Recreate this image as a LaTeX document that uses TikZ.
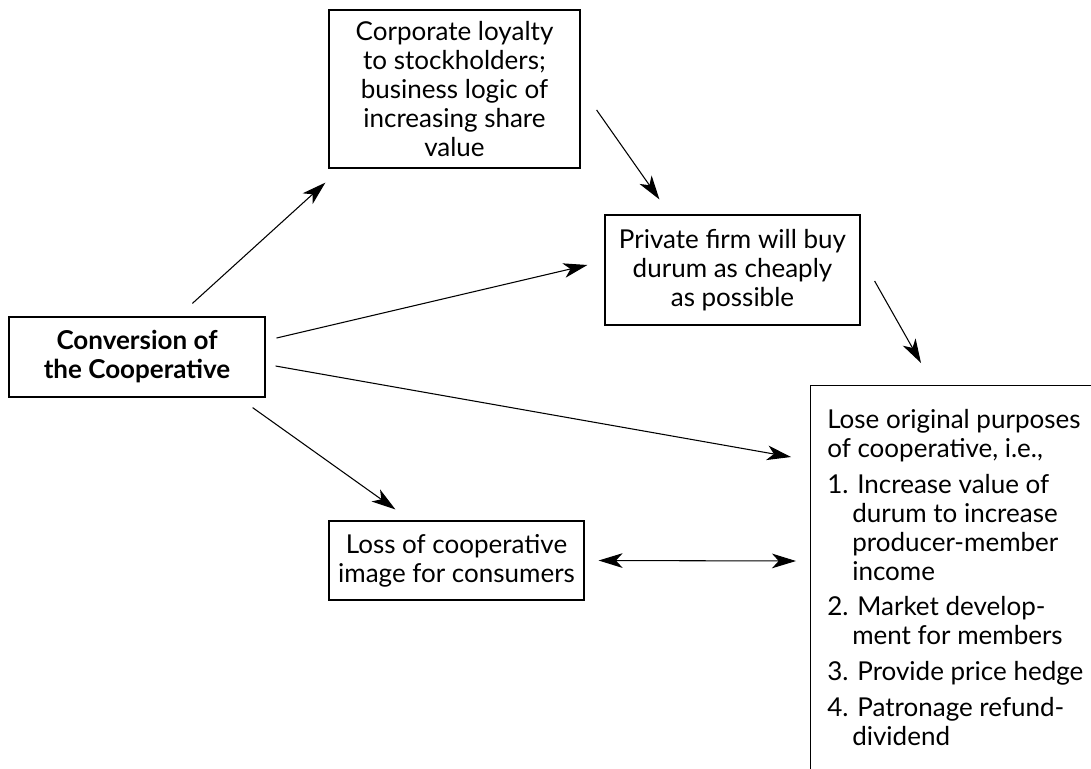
\documentclass[tikz,border=0pt]{standalone}
\usepackage{fontspec}
\setmainfont{Lato}
\usetikzlibrary{arrows.meta,calc}
\newcommand\txtfont{\fontsize{19.5}{21.75}\selectfont}
\begin{document}
\begin{tikzpicture}[x=0.75pt,y=-0.75pt,
  box/.style={draw, line width=0.9pt, align=center, inner sep=0pt, font=\txtfont},
  arr/.style={line width=0.8pt, -{Stealth[length=18pt,width=11pt,inset=5pt]}},
  darr/.style={line width=0.8pt, {Stealth[length=18pt,width=11pt,inset=5pt]}-{Stealth[length=18pt,width=11pt,inset=5pt]}}]
\fill[white] (0,0) rectangle (1091,768);
\useasboundingbox (0,0) rectangle (1091,768);

\node[box, minimum width=188.25pt, minimum height=118.5pt] (top) at (454.5,89)
  {Corporate loyalty\\to stockholders;\\business logic of\\increasing share\\value};
\node[box, minimum width=192pt, minimum height=60pt, font=\txtfont\bfseries] (conv) at (137,357)
  {Conversion of\\the Cooperative};
\node[box, minimum width=191.25pt, minimum height=82.5pt] (private) at (732.5,270)
  {Private firm will buy\\durum as cheaply\\as possible};
\node[box, minimum width=191.25pt, minimum height=59.25pt] (loss) at (456.5,560.5)
  {Loss of cooperative\\image for consumers};
\node[draw, line width=0.9pt, anchor=north west, minimum width=225pt, minimum height=300pt, inner sep=0pt] (purposes) at (810,385) {};
\node[anchor=base west, align=left, inner sep=0pt, font=\txtfont] (purposestext) at (827,745)
  {Lose original purposes\\
   of cooperative, i.e.,\\[5pt]
   1. Increase value of\\
   \hspace*{18.75pt}durum to increase\\
   \hspace*{18.75pt}producer-member\\
   \hspace*{18.75pt}income\\[5pt]
   2. Market develop-\\
   \hspace*{18.75pt}ment for members\\[5pt]
   3. Provide price hedge\\[5pt]
   4. Patronage refund-\\
   \hspace*{18.75pt}dividend};

\draw[arr] ($(conv.north west)+(184,-13)$) -- ($(top.south west)+(-3,14)$);
\draw[arr] ($(conv.east)+(11,-19)$) -- ($(private.west)+(-17,-5)$);
\draw[arr] ($(conv.east)+(10,9)$) -- ($(purposes.north west)+(-19,72)$);
\draw[arr] ($(conv.south east)+(-13,10)$) -- ($(loss.north west)+(67,-11)$);
\draw[arr] ($(top.east)+(16,21)$) -- ($(private.north west)+(55,-15)$);
\draw[arr] ($(private.east)+(14,11)$) -- ($(purposes.north west)+(111,-22)$);
\draw[darr] ($(loss.east)+(14,0)$) -- ($(purposes.north west)+(-14,176)$);
\end{tikzpicture}
\end{document}
